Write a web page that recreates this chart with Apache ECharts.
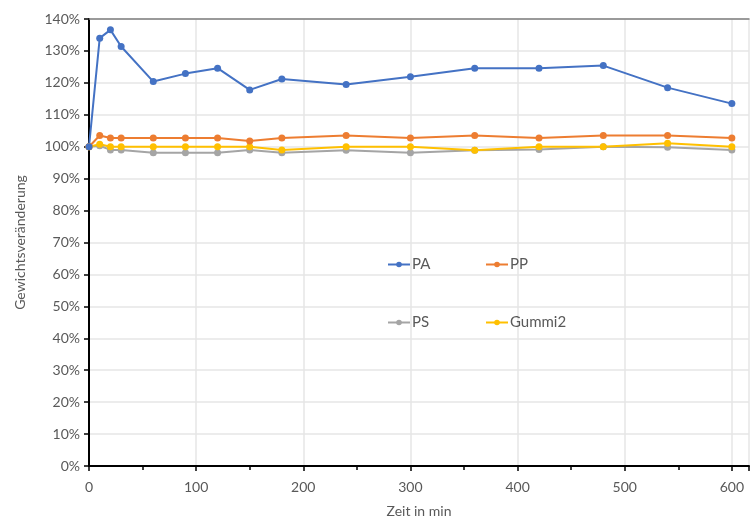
<!DOCTYPE html>
<html><head><meta charset="utf-8">
<script src="https://cdn.jsdelivr.net/npm/echarts@6/dist/echarts.min.js"></script>
<style>html,body{margin:0;padding:0;background:#fff}#c{width:750px;height:521px}</style>
</head><body><div id="c"></div>
<script>
const times = [0, 10, 20, 30, 60, 90, 120, 150, 180, 240, 300, 360, 420, 480, 540, 600];
const PA = [100, 134.0, 136.6, 131.4, 120.4, 122.9, 124.6, 117.8, 121.2, 119.5, 121.9, 124.6, 124.6, 125.4, 118.5, 113.5];
const PP = [100, 103.5, 102.7, 102.7, 102.7, 102.7, 102.7, 101.8, 102.7, 103.5, 102.7, 103.5, 102.7, 103.5, 103.5, 102.7];
const PS = [100, 100.3, 99.0, 99.0, 98.1, 98.1, 98.1, 99.0, 98.1, 98.9, 98.1, 98.9, 99.1, 100, 99.8, 99.0];
const Gummi2 = [100, 100.8, 100, 100, 100, 100, 100, 100, 99.0, 100, 100, 98.9, 100, 100, 101.1, 100];
const seriesNames = ['PA', 'PP', 'PS', 'Gummi2'];
const seriesData = [PA, PP, PS, Gummi2];
const colors = ['#4472C4', '#ED7D31', '#A5A5A5', '#FFC000'];

const font = 'Lato, "Open Sans", sans-serif';
const chart = echarts.init(document.getElementById('c'));
const order = [2, 3, 1, 0];
const legendPos = [[382, 252], [480, 252], [382, 310], [480, 310]];
chart.setOption({
  animation: false,
  grid: { left: 89, top: 19, right: 1, bottom: 55, outerBoundsMode: 'none', containLabel: false },
  xAxis: [{
    type: 'value', min: 0, max: 616, interval: 100,
    name: 'Zeit in min', nameLocation: 'middle', nameGap: 38,
    nameTextStyle: { color: '#595959', fontSize: 14, fontFamily: font },
    axisLine: { lineStyle: { color: '#000', width: 2 } },
    axisTick: { show: true, length: 5, lineStyle: { color: '#000', width: 1.5 } },
    minorTick: { show: true, splitNumber: 2, length: 4, lineStyle: { color: '#000', width: 1.5 } },
    axisLabel: { color: '#595959', fontSize: 14, fontFamily: font, margin: 14, showMaxLabel: false },
    splitLine: { show: true, lineStyle: { color: '#e6e6e6', width: 1.5 } }
  }, {
    type: 'value', position: 'top', min: 0, max: 616,
    axisLine: { show: true, lineStyle: { color: '#7f7f7f', width: 1.5 } },
    axisTick: { show: false }, axisLabel: { show: false }, splitLine: { show: false }
  }],
  yAxis: {
    type: 'value', min: 0, max: 140, interval: 10,
    name: 'Gewichtsveränderung', nameLocation: 'middle', nameGap: 62,
    nameTextStyle: { color: '#595959', fontSize: 14, fontFamily: font },
    axisLine: { show: true, lineStyle: { color: '#000', width: 2 } },
    axisTick: { show: true, length: 5, lineStyle: { color: '#000', width: 1.5 } },
    axisLabel: { color: '#595959', fontSize: 14, fontFamily: font, margin: 9, formatter: '{value}%' },
    splitLine: { show: true, lineStyle: { color: '#e6e6e6', width: 1.5 } }
  },
  legend: seriesNames.map((n, i) => ({
    data: [n], left: legendPos[i][0], top: legendPos[i][1], itemWidth: 22, itemHeight: 7,
    textStyle: { color: '#595959', fontSize: 15, fontFamily: font, padding: [0, 0, 0, -3] }
  })),
  series: order.map(i => ({
    name: seriesNames[i], type: 'line',
    data: times.map((t, k) => [t, seriesData[i][k]]),
    color: colors[i], symbol: 'circle', symbolSize: 7,
    lineStyle: { width: 2, color: colors[i] },
    itemStyle: { color: colors[i] }
  }))
});
</script></body></html>
